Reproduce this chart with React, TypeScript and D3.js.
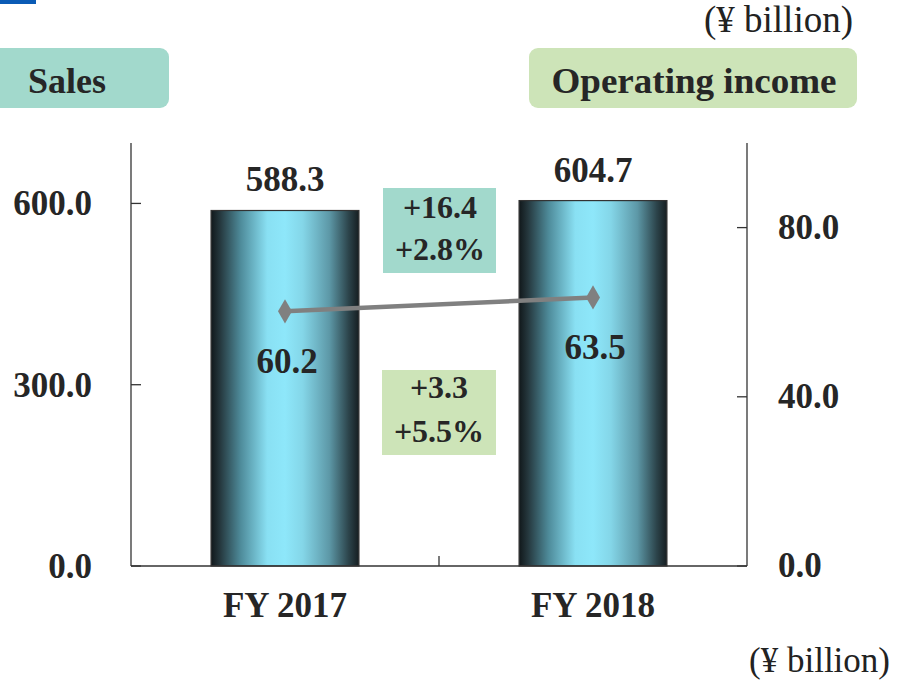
import React from "react";
import * as d3 from "d3";

const categories = ["FY 2017", "FY 2018"];
const sales = [588.3, 604.7];
const operatingIncome = [60.2, 63.5];
const leftTicks = [0, 300, 600];
const rightTicks = [0, 40, 80];
const salesDelta = ["+16.4", "+2.8%"];
const incomeDelta = ["+3.3", "+5.5%"];
const unitLabel = "(¥ billion)";

const W = 900;
const H = 681;
const plot = { left: 131, right: 747, top: 143, bottom: 566 };
const FONT = "'Liberation Serif', 'Times New Roman', serif";

export default function App() {
  const x = d3.scaleBand<string>().domain(categories).range([plot.left, plot.right]).paddingInner(0).paddingOuter(0);
  const yL = d3.scaleLinear().domain([0, 700]).range([plot.bottom, plot.top]);
  const yR = d3.scaleLinear().domain([0, 100]).range([plot.bottom, plot.top]);
  const fmt = d3.format(".1f");
  const barW = x.bandwidth() * 0.48;
  const cx = (c: string) => (x(c) as number) + x.bandwidth() / 2;
  const lineGen = d3
    .line<number>()
    .x((_, i) => cx(categories[i]))
    .y((d) => yR(d));
  const diamond = d3.symbol().type(d3.symbolDiamond).size(170)();

  return (
    <svg width={W} height={H} style={{ position: "absolute", left: 0, top: 0, background: "#fff" }} fontFamily={FONT}>
      <defs>
        <linearGradient id="barGrad" x1="0" x2="1" y1="0" y2="0">
          <stop offset="0%" stopColor="#11181b" />
          <stop offset="6%" stopColor="#25373d" />
          <stop offset="20%" stopColor="#4e8b9a" />
          <stop offset="38%" stopColor="#89e0f3" />
          <stop offset="50%" stopColor="#8ee7fa" />
          <stop offset="62%" stopColor="#84d6e8" />
          <stop offset="80%" stopColor="#5d98a7" />
          <stop offset="93%" stopColor="#2c444b" />
          <stop offset="100%" stopColor="#161e21" />
        </linearGradient>
      </defs>
      <rect x={0} y={0} width={36} height={4} fill="#0a5bb5" />

      {/* unit label top */}
      <text x={853} y={32} textAnchor="end" fontSize={37} fill="#222">{unitLabel}</text>

      {/* header boxes */}
      <rect x={-10} y={48} width={179} height={60} rx={9} fill="#a2d9cc" />
      <text x={67} y={93} textAnchor="middle" fontSize={36} fontWeight="bold" fill="#262626">Sales</text>
      <rect x={529} y={48} width={328} height={60} rx={9} fill="#cde4b8" />
      <text x={694} y={93} textAnchor="middle" fontSize={36} fontWeight="bold" fill="#262626" textLength={285} lengthAdjust="spacingAndGlyphs">Operating income</text>

      {/* bars */}
      {categories.map((c, i) => (
        <g key={c}>
          <rect
            x={cx(c) - barW / 2}
            y={yL(sales[i])}
            width={barW}
            height={plot.bottom - yL(sales[i])}
            fill="url(#barGrad)"
            stroke="#333"
            strokeWidth={1.2}
          />
          <text x={cx(c)} y={yL(sales[i]) - 19} textAnchor="middle" fontSize={35} fontWeight="bold" fill="#262626">
            {fmt(sales[i])}
          </text>
        </g>
      ))}

      {/* axes */}
      <g stroke="#333" strokeWidth={1.3} fill="none">
        <line x1={plot.left} x2={plot.left} y1={plot.top} y2={plot.bottom} />
        <line x1={plot.right} x2={plot.right} y1={plot.top} y2={plot.bottom} />
        <line x1={plot.left} x2={plot.right} y1={plot.bottom} y2={plot.bottom} />
        {leftTicks.map((t) => (
          <line key={"lt" + t} x1={plot.left} x2={plot.left + 10} y1={yL(t)} y2={yL(t)} />
        ))}
        {rightTicks.map((t) => (
          <line key={"rt" + t} x1={plot.right - 10} x2={plot.right} y1={yR(t)} y2={yR(t)} />
        ))}
        {categories.slice(1).map((c) => (
          <line key={"ct" + c} x1={x(c) as number} x2={x(c) as number} y1={plot.bottom - 10} y2={plot.bottom} />
        ))}
      </g>
      {leftTicks.map((t) => (
        <text key={"ll" + t} x={92} y={yL(t) + 12} textAnchor="end" fontSize={35} fontWeight="bold" fill="#262626">
          {fmt(t)}
        </text>
      ))}
      {rightTicks.map((t) => (
        <text key={"rl" + t} x={778} y={yR(t) + 11} textAnchor="start" fontSize={35} fontWeight="bold" fill="#262626">
          {fmt(t)}
        </text>
      ))}
      {categories.map((c) => (
        <text key={"cl" + c} x={cx(c)} y={617} textAnchor="middle" fontSize={35} fontWeight="bold" fill="#262626">
          {c}
        </text>
      ))}

      {/* operating income line */}
      <path d={lineGen(operatingIncome) as string} stroke="#808080" strokeWidth={4.5} fill="none" />
      {operatingIncome.map((v, i) => (
        <path key={"m" + i} d={diamond as string} transform={`translate(${cx(categories[i])},${yR(v)})`} fill="#808080" />
      ))}
      {operatingIncome.map((v, i) => (
        <text key={"ol" + i} x={cx(categories[i]) + 2} y={yR(v) + 62} textAnchor="middle" fontSize={35} fontWeight="bold" fill="#262626">
          {fmt(v)}
        </text>
      ))}

      {/* delta boxes */}
      <rect x={383} y={188} width={113} height={85} fill="#a2d9cc" />
      <text x={440} y={218} textAnchor="middle" fontSize={32} fontWeight="bold" fill="#262626">{salesDelta[0]}</text>
      <text x={440} y={260} textAnchor="middle" fontSize={32} fontWeight="bold" fill="#262626">{salesDelta[1]}</text>
      <rect x={382} y={370} width={114} height={85} fill="#cde4b8" />
      <text x={439} y={398} textAnchor="middle" fontSize={32} fontWeight="bold" fill="#262626">{incomeDelta[0]}</text>
      <text x={439} y={442} textAnchor="middle" fontSize={32} fontWeight="bold" fill="#262626">{incomeDelta[1]}</text>

      {/* unit label bottom */}
      <text x={890} y={672} textAnchor="end" fontSize={35} fill="#222">{unitLabel}</text>
    </svg>
  );
}
